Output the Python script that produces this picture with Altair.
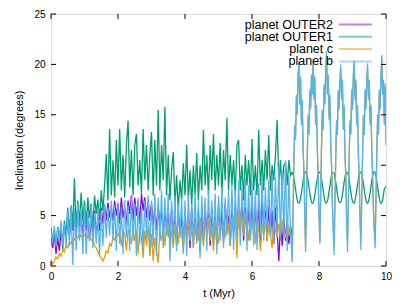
import altair as alt
import pandas as pd

# ---------------- data ----------------
names = ["planet OUTER2", "planet OUTER1", "planet c", "planet b"]
colors = ["#9400d3", "#009e73", "#e69f00", "#56b4e9"]

x_ticks = [0, 2, 4, 6, 8, 10]
y_ticks = [0, 5, 10, 15, 20, 25]

STEP = 0.05      # sampling of the chaotic part (Myr)
STEP_LATE = 0.025  # sampling of the regular part after 7.2 Myr

# planet OUTER2 : 0.00 .. 7.20 Myr
outer2 = [
    3.0, 1.8, 3.2, 1.2, 2.8, 1.5, 3.5, 2.5, 4.0, 2.8,
    4.5, 3.0, 5.0, 3.5, 5.5, 3.2, 5.8, 3.8, 5.2, 3.0,
    5.5, 3.5, 5.8, 2.5, 5.0, 3.0, 5.5, 2.8, 4.8, 3.5,
    5.8, 4.2, 6.0, 4.5, 6.3, 4.8, 5.8, 4.5, 6.5, 5.0,
    6.2, 4.2, 6.8, 4.8, 5.8, 4.0, 6.5, 5.2, 7.0, 4.5,
    6.8, 5.0, 6.5, 4.2, 7.2, 5.5, 6.8, 4.8, 6.5, 4.5,
    6.2, 4.0, 5.8, 3.5, 6.0, 4.2, 5.5, 3.0, 5.8, 3.8,
    5.5, 2.5, 5.8, 3.0, 5.2, 2.0, 5.5, 3.2, 4.8, 2.2,
    5.5, 2.8, 5.0, 1.8, 5.8, 3.0, 4.8, 2.5, 5.5, 1.4,
    5.0, 2.5, 6.0, 3.2, 5.2, 2.0, 5.8, 2.8, 5.0, 2.2,
    6.0, 3.0, 5.5, 2.4, 6.2, 3.5, 5.0, 2.0, 5.8, 3.2,
    6.2, 2.8, 5.5, 3.5, 6.5, 2.5, 5.8, 3.0, 6.0, 2.6,
    6.5, 3.2, 5.8, 2.8, 6.2, 2.0, 6.9, 3.5, 5.5, 2.5,
    6.0, 3.0, 5.5, 2.2, 5.8, 3.5, 0.5, 4.2, 2.0, 4.8,
    2.5, 4.5, 2.2, 4.0, 2.9,
]

# planet OUTER1 : chaotic part 0.00 .. 7.20 Myr
outer1_early = [
    3.8, 2.5, 3.6, 1.8, 3.9, 2.6, 4.2, 1.5, 4.5, 3.0,
    5.8, 3.2, 6.0, 4.0, 8.7, 3.5, 6.5, 4.2, 7.3, 4.5,
    6.5, 4.0, 6.8, 4.8, 6.2, 3.8, 7.0, 5.2, 6.6, 4.5,
    7.5, 5.5, 8.0, 11.1, 6.5, 13.6, 7.0, 10.5, 6.8, 12.5,
    8.0, 13.6, 7.5, 11.0, 6.8, 12.0, 14.4, 7.8, 11.5, 7.0,
    12.0, 13.1, 8.0, 10.5, 7.2, 13.6, 8.5, 12.0, 7.5, 11.0,
    13.3, 7.0, 12.5, 8.0, 15.5, 7.5, 12.0, 8.5, 15.8, 7.0,
    11.0, 6.5, 9.5, 11.3, 6.0, 9.0, 5.5, 8.5, 6.5, 10.2,
    7.0, 12.0, 6.5, 9.5, 6.0, 10.0, 7.0, 11.2, 6.5, 10.0,
    7.5, 13.5, 8.0, 11.0, 7.0, 12.0, 8.5, 13.1, 7.5, 11.0,
    8.0, 12.2, 7.0, 11.5, 8.5, 14.7, 7.5, 11.0, 8.0, 10.5,
    7.0, 12.0, 12.5, 7.5, 10.0, 6.5, 11.0, 8.0, 10.5, 7.0,
    12.6, 7.5, 10.0, 7.0, 13.5, 8.0, 10.5, 7.5, 11.5, 8.5,
    13.0, 7.5, 10.0, 8.5, 11.0, 14.5, 8.0, 10.5, 7.5, 10.0,
    10.2, 8.0, 10.5, 9.0, 9.33,
]
# planet OUTER1 : regular part 7.20 .. 10.00 Myr (every 0.05)
outer1_late = [
    9.33, 8.73, 7.60, 6.57, 6.21, 6.73, 7.84, 8.91, 9.35, 8.91,
    7.84, 6.73, 6.21, 6.57, 7.60, 8.73, 9.33, 9.06, 8.08, 6.93,
    6.25, 6.43, 7.36, 8.53, 9.28, 9.19, 8.31, 7.14, 6.32, 6.32,
    7.14, 8.31, 9.19, 9.28, 8.53, 7.36, 6.43, 6.25, 6.93, 8.08,
    9.06, 9.33, 8.73, 7.60, 6.57, 6.21, 6.73, 7.84, 8.91, 9.35,
    8.91, 7.84, 6.73, 6.21, 6.57, 7.60, 7.90,
]

# planet c : chaotic part 0.00 .. 7.15 Myr
planet_c_early = [
    0.6, 0.2, 0.5, 0.9, 0.7, 1.2, 1.0, 1.6, 1.4, 2.0,
    1.8, 2.4, 2.2, 2.7, 2.6, 3.0, 2.8, 3.2, 2.9, 3.1,
    3.0, 3.2, 2.8, 3.0, 2.6, 2.5, 2.0, 1.8, 1.4, 1.0,
    0.8, 0.5, 0.9, 1.5, 1.3, 2.2, 2.0, 2.8, 2.6, 3.2,
    3.0, 3.4, 2.0, 3.5, 3.2, 1.5, 3.6, 3.0, 2.2, 3.8,
    2.5, 3.5, 1.2, 3.8, 2.8, 0.8, 3.5, 2.0, 4.0, 1.0,
    3.2, 0.5, 2.8, 1.5, 0.3, 3.5, 2.5, 4.0, 2.0, 4.2,
    2.8, 4.5, 3.0, 1.8, 4.2, 3.0, 2.2, 4.5, 3.2, 1.5,
    4.0, 3.0, 4.8, 2.5, 3.8, 1.8, 4.5, 3.2, 2.5, 4.8,
    3.5, 2.0, 4.5, 3.2, 4.8, 2.5, 3.8, 1.5, 4.5, 3.5,
    2.2, 4.8, 3.5, 4.2, 2.8, 5.0, 3.8, 2.0, 4.8, 4.0,
    5.2, 0.8, 5.5, 4.5, 5.0, 3.0, 5.3, 4.2, 2.5, 4.8,
    3.8, 5.0, 2.2, 4.5, 3.5, 1.5, 4.2, 3.0, 4.8, 2.5,
    4.0, 3.2, 1.8, 4.5, 3.5, 2.8, 4.2, 3.0, 4.6, 3.5,
    2.8, 4.5, 3.0, 3.8,
]
# planet c : regular part 7.200 .. 10.000 Myr (every 0.025)
planet_c_late = [
    1.0, 5.3, 10.2, 13.7, 12.8, 16.7, 15.3, 18.7, 19.9, 16.3, 18.5, 14.3, 16.2, 11.8, 9.3, 5.3,
    2.0, 6.2, 10.8, 14.7, 13.3, 17.2, 15.8, 18.7, 17.3, 20.0, 16.8, 18.5, 14.3, 15.7, 11.8, 8.8, 5.3,
    2.4, 6.8, 11.7, 15.2, 13.8, 17.7, 16.3, 19.2, 20.8, 17.3, 18.7, 14.8, 16.7, 12.3, 9.8, 6.3, 3.8,
    2.2, 5.8, 10.7, 14.2, 13.3, 17.2, 15.8, 18.2, 19.6, 16.8, 18.2, 13.8, 15.7, 11.3, 8.8, 4.8,
    2.5, 5.8, 10.7, 14.2, 13.3, 17.2, 15.8, 18.7, 20.0, 16.8, 18.2, 14.3, 15.7, 11.3, 8.8, 4.8,
    2.9, 6.2, 10.7, 14.7, 13.3, 17.2, 15.8, 18.2, 19.7, 16.8, 18.2, 14.3, 15.7, 11.8, 8.8, 5.8, 3.8,
    2.5, 6.2, 11.2, 14.7, 13.3, 17.2, 15.8, 18.7, 20.5, 17.3, 18.2, 14.3, 17.8, 12.3,
]

# planet b : chaotic part 0.00 .. 7.15 Myr
planet_b_early = [
    3.5, 2.2, 4.0, 2.0, 3.8, 2.5, 4.5, 2.0, 4.2, 1.8,
    5.5, 2.0, 6.0, 0.1, 5.8, 1.5, 6.2, 2.5, 5.5, 1.2,
    6.0, 1.2, 5.5, 2.5, 6.0, 1.8, 5.2, 2.2, 5.8, 1.0,
    5.5, 2.0, 6.2, 2.8, 5.8, 3.0, 6.5, 2.5, 6.0, 1.5,
    6.3, 2.2, 5.8, 1.2, 6.5, 2.8, 6.0, 1.5, 6.8, 2.5,
    6.2, 1.0, 6.8, 2.2, 5.8, 1.5, 6.5, 2.8, 7.0, 1.2,
    6.5, 2.0, 7.2, 1.0, 6.8, 2.5, 7.5, 1.8, 6.8, 3.0,
    7.2, 0.5, 6.5, 2.2, 7.0, 1.5, 6.2, 2.8, 6.8, 1.2,
    6.5, 1.0, 7.0, 2.5, 6.2, 1.8, 7.2, 2.2, 6.5, 0.8,
    7.0, 2.5, 6.8, 1.5, 7.5, 2.8, 6.5, 2.0, 7.2, 1.2,
    7.0, 2.5, 7.8, 1.8, 6.8, 3.0, 7.5, 2.2, 8.0, 1.6,
    7.5, 2.8, 8.5, 2.0, 7.8, 3.2, 8.7, 1.5, 8.0, 2.5,
    8.5, 2.0, 7.5, 1.6, 8.2, 3.0, 8.8, 2.5, 7.8, 3.2,
    8.5, 2.8, 9.2, 2.3, 8.8, 3.5, 9.8, 2.5, 9.5, 3.0,
    10.5, 1.5, 9.0, 3.5,
]
# planet b : regular part 7.200 .. 10.000 Myr (every 0.025)
planet_b_late = [
    0.4, 5.5, 10.5, 14.0, 12.5, 17.0, 15.0, 19.0, 20.3, 16.0, 18.8, 14.0, 16.5, 11.5, 9.5, 5.0,
    1.4, 6.5, 11.0, 15.0, 13.0, 17.5, 15.5, 19.0, 17.0, 20.5, 16.5, 18.8, 14.0, 16.0, 11.5, 9.0, 5.0,
    2.2, 7.0, 12.0, 15.5, 13.5, 18.0, 16.0, 19.5, 21.3, 17.0, 19.0, 14.5, 17.0, 12.0, 10.0, 6.0, 3.5,
    1.1, 6.0, 11.0, 14.5, 13.0, 17.5, 15.5, 18.5, 20.0, 16.5, 18.5, 13.5, 16.0, 11.0, 9.0, 4.5,
    1.4, 6.0, 11.0, 14.5, 13.0, 17.5, 15.5, 19.0, 20.4, 16.5, 18.5, 14.0, 16.0, 11.0, 9.0, 4.5,
    1.6, 6.5, 11.0, 15.0, 13.0, 17.5, 15.5, 18.5, 20.1, 16.5, 18.5, 14.0, 16.0, 11.5, 9.0, 5.5, 3.5,
    1.75, 6.5, 11.5, 15.0, 13.0, 17.5, 15.5, 19.0, 20.9, 17.0, 18.5, 14.0, 18.1, 12.0,
]


# ---------------- build tables ----------------
def times(start, step, n):
    return [round(start + i * step, 4) for i in range(n)]


def frame(vals, start, step):
    return pd.DataFrame({"t": times(start, step, len(vals)), "v": vals})


df_outer2 = frame(outer2, 0.0, STEP)
df_outer1_early = frame(outer1_early, 0.0, STEP)
df_outer1_late = frame(outer1_late, 7.2, STEP)
df_c = pd.concat([frame(planet_c_early, 0.0, STEP), frame(planet_c_late, 7.2, STEP_LATE)], ignore_index=True)
df_b = pd.concat([frame(planet_b_early, 0.0, STEP), frame(planet_b_late, 7.2, STEP_LATE)], ignore_index=True)

FONT = "Liberation Sans"
W, H = 335, 252
LW = 1.3

x_enc = alt.X(
    "t:Q",
    scale=alt.Scale(domain=[0, 10], nice=False, zero=False),
    axis=alt.Axis(values=x_ticks, title="t (Myr)", grid=False, ticks=False, tickSize=0,
                  domain=False, labelPadding=5, titlePadding=6, labelFlush=False,
                  titleFontWeight="normal"),
)
y_enc = alt.Y(
    "v:Q",
    scale=alt.Scale(domain=[0, 25], nice=False),
    axis=alt.Axis(values=y_ticks, title="Inclination (degrees)", grid=False, ticks=False, tickSize=0,
                  domain=False, labelPadding=6, titlePadding=9, labelFlush=False,
                  titleFontWeight="normal"),
)


def line(df, color, interp="linear"):
    return alt.Chart(df).mark_line(color=color, strokeWidth=LW, interpolate=interp, clip=True).encode(
        x=x_enc, y=y_enc, order="t:Q")


layers = [
    line(df_outer2, colors[0]),
    line(df_outer1_early, colors[1]),
    line(df_outer1_late, colors[1], "monotone"),
    line(df_c, colors[2]),
    line(df_b, colors[3]),
]

# inward ("mirrored") tick marks, gnuplot style
TL = 5
dfx = pd.DataFrame({"t": x_ticks})
dfy = pd.DataFrame({"v": y_ticks})
layers += [
    alt.Chart(dfx).mark_rule(color="black", strokeWidth=1).encode(x="t:Q", y=alt.value(H), y2=alt.value(H - TL)),
    alt.Chart(dfx).mark_rule(color="black", strokeWidth=1).encode(x="t:Q", y=alt.value(0), y2=alt.value(TL)),
    alt.Chart(dfy).mark_rule(color="black", strokeWidth=1).encode(y="v:Q", x=alt.value(0), x2=alt.value(TL)),
    alt.Chart(dfy).mark_rule(color="black", strokeWidth=1).encode(y="v:Q", x=alt.value(W), x2=alt.value(W - TL)),
]

# key, gnuplot style: text right-aligned, sample line to its right
one = pd.DataFrame({"k": [0]})
for i, (nm, col) in enumerate(zip(names, colors)):
    ypx = 10.5 + 12.3 * i
    layers.append(
        alt.Chart(one).mark_text(text=nm, align="right", baseline="middle", font=FONT, fontSize=12.5,
                                 color="black").encode(x=alt.value(282), y=alt.value(ypx))
    )
    layers.append(
        alt.Chart(one).mark_rule(color=col, strokeWidth=2, opacity=0.5).encode(
            x=alt.value(288), x2=alt.value(321), y=alt.value(ypx))
    )

chart = (
    alt.layer(*layers)
    .properties(width=W, height=H, autosize=alt.AutoSizeParams(type="none"),
                padding={"left": 43, "top": 6, "right": 13, "bottom": 37})
    .configure_view(stroke="black", strokeWidth=1)
    .configure_axis(labelFont=FONT, titleFont=FONT, labelFontSize=12.5, titleFontSize=12.5,
                    labelColor="black", titleColor="black", titleFontWeight="normal")
    .configure(background="white")
)

chart.save("out.html", embed_options={"renderer": "svg", "actions": False})
